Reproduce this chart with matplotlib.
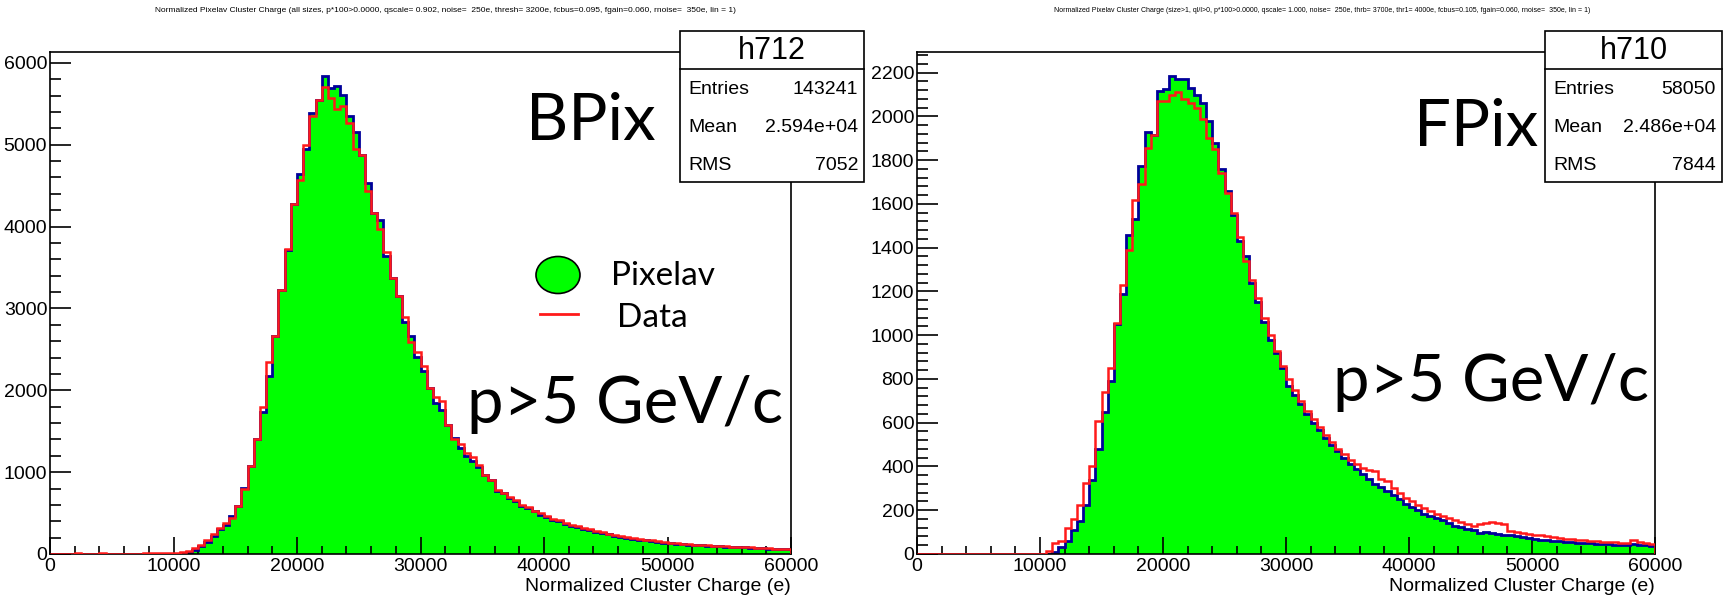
import numpy as np
import matplotlib
matplotlib.use('Agg')
import matplotlib.pyplot as plt
from matplotlib.patches import Rectangle, Ellipse
from matplotlib.lines import Line2D
from matplotlib.ticker import MultipleLocator

# cluster charge histograms, 120 bins of 500 e from 0 to 60000 e
edges = np.arange(0, 60001, 500)

bpix_sim = [
    0, 0, 0, 0, 0, 0, 0, 0, 0, 0,
    0, 0, 0, 0, 0, 0, 0, 0, 0, 0,
    2, 8, 25, 50, 95, 150, 220, 300, 360, 460,
    590, 810, 1080, 1400, 1730, 2170, 2660, 3220, 3710, 4270,
    4640, 4950, 5390, 5550, 5840, 5690, 5720, 5610, 5350, 5160,
    4870, 4530, 4170, 4080, 3640, 3370, 3150, 2840, 2660, 2410,
    2230, 2030, 1850, 1760, 1570, 1420, 1300, 1200, 1130, 1060,
    960, 905, 770, 740, 690, 650, 590, 560, 520, 480,
    450, 420, 400, 370, 345, 330, 310, 290, 270, 255,
    240, 225, 210, 200, 185, 175, 165, 160, 150, 140,
    135, 125, 120, 115, 110, 105, 100, 95, 95, 90,
    85, 80, 80, 75, 75, 70, 65, 65, 60, 60]

bpix_data = [
    0, 0, 0, 0, 10, 0, 0, 0, 10, 0,
    0, 0, 0, 0, 0, 10, 10, 10, 10, 10,
    15, 20, 40, 70, 110, 170, 240, 320, 380, 440,
    590, 800, 1070, 1410, 1800, 2340, 2660, 3230, 3720, 4270,
    4570, 4990, 5350, 5540, 5710, 5570, 5430, 5470, 5270, 4950,
    4870, 4430, 4170, 3970, 3690, 3370, 3150, 2900, 2590, 2470,
    2300, 2030, 1920, 1870, 1570, 1410, 1340, 1230, 1190, 1090,
    970, 910, 780, 750, 700, 660, 600, 570, 530, 500,
    460, 430, 410, 380, 360, 340, 320, 300, 280, 265,
    250, 235, 220, 205, 195, 180, 175, 165, 155, 150,
    140, 135, 125, 120, 115, 110, 105, 100, 95, 95,
    90, 85, 80, 80, 75, 70, 70, 65, 65, 60]

fpix_sim = [
    0, 0, 0, 0, 0, 0, 0, 0, 0, 0,
    0, 0, 0, 0, 0, 0, 0, 0, 0, 0,
    0, 0, 10, 30, 60, 110, 150, 225, 340, 480,
    650, 790, 1050, 1190, 1460, 1530, 1775, 1930, 1915, 2115,
    2125, 2185, 2170, 2170, 2130, 2100, 2060, 1980, 1880, 1760,
    1660, 1550, 1430, 1360, 1240, 1150, 1060, 980, 920, 850,
    770, 725, 685, 640, 600, 565, 530, 500, 470, 440,
    410, 390, 365, 345, 320, 305, 290, 270, 250, 230,
    215, 200, 185, 175, 165, 155, 140, 130, 122, 116,
    110, 98, 102, 96, 92, 88, 85, 80, 76, 74,
    70, 66, 64, 60, 58, 55, 53, 52, 50, 48,
    47, 46, 44, 43, 42, 42, 46, 42, 40, 38]

fpix_data = [
    0, 0, 0, 0, 0, 0, 0, 0, 0, 0,
    0, 0, 0, 0, 0, 0, 0, 0, 0, 0,
    0, 15, 50, 60, 120, 160, 225, 325, 400, 610,
    740, 850, 1055, 1230, 1390, 1620, 1690, 1855, 1915, 2070,
    2070, 2100, 2110, 2080, 2060, 2040, 1990, 1900, 1850, 1740,
    1650, 1560, 1450, 1340, 1250, 1170, 1080, 1000, 930, 860,
    800, 750, 700, 655, 615, 580, 545, 510, 480, 455,
    430, 410, 395, 385, 380, 345, 335, 300, 280, 255,
    240, 225, 210, 195, 185, 175, 165, 155, 145, 138,
    130, 135, 140, 145, 140, 138, 105, 100, 95, 92,
    88, 85, 80, 76, 74, 70, 68, 65, 62, 60,
    58, 56, 55, 54, 52, 52, 65, 55, 50, 45]

titles = [
    'Normalized Pixelav Cluster Charge (all sizes, p*100>0.0000, qscale= 0.902, noise=  250e, '
    'thresh= 3200e, fcbus=0.095, fgain=0.060, rnoise=  350e, lin = 1)',
    'Normalized Pixelav Cluster Charge (size>1, ql/l>0, p*100>0.0000, qscale= 1.000, noise=  250e, '
    'thrb= 3700e, thr1= 4000e, fcbus=0.105, fgain=0.060, rnoise=  350e, lin = 1)']
hist_names = ['h712', 'h710']
entries = ['143241', '58050']
means = ['2.594e+04', '2.486e+04']
rms = ['7052', '7844']
det_labels = ['BPix', 'FPix']

W, H = 1727, 600
plt.rcParams['font.family'] = ['Liberation Sans', 'DejaVu Sans']
fig = plt.figure(figsize=(W / 100, H / 100), dpi=100)

GREEN = '#00ff00'
BLUE = '#000099'
RED = '#ff1a1a'


def fx(x):
    return x / W


def fy(y):
    return 1 - y / H


def draw_panel(ax, sim, data, ymajor, yminor):
    ax.stairs(sim, edges, fill=True, color=GREEN, zorder=1)
    ax.stairs(sim, edges, color=BLUE, lw=2.0, zorder=2)
    ax.stairs(data, edges, color=RED, lw=1.8, zorder=3)
    ax.set_xlim(0, 60000)
    ax.set_ylim(0, max(sim) * 1.05)
    ax.xaxis.set_major_locator(MultipleLocator(10000))
    ax.xaxis.set_minor_locator(MultipleLocator(2000))
    ax.yaxis.set_major_locator(MultipleLocator(ymajor))
    ax.yaxis.set_minor_locator(MultipleLocator(yminor))
    ax.tick_params(which='both', direction='in', top=False, right=False,
                   labelsize=14, width=1.2)
    ax.tick_params(axis='y', which='major', length=15, pad=2)
    ax.tick_params(axis='y', which='minor', length=8)
    ax.tick_params(axis='x', which='major', length=12, pad=3)
    ax.tick_params(axis='x', which='minor', length=6)
    for s in ax.spines.values():
        s.set_linewidth(1.2)
    ax.set_xlabel('Normalized Cluster Charge (e)', loc='right', fontsize=14, labelpad=2)


ax1 = fig.add_axes([fx(50), fy(554), 741 / W, 502 / H])
ax2 = fig.add_axes([fx(917), fy(554), 738 / W, 502 / H])
draw_panel(ax1, bpix_sim, bpix_data, 1000, 200)
draw_panel(ax2, fpix_sim, fpix_data, 200, 40)

# tiny ROOT titles
fig.text(fx(445), fy(10), titles[0], fontsize=6.0, ha='center', va='center')
fig.text(fx(1322), fy(10), titles[1], fontsize=5.0, ha='center', va='center')

# stats boxes
for i, (x0, x1) in enumerate([(680, 864), (1545, 1722)]):
    fig.add_artist(Rectangle((fx(x0), fy(182)), (x1 - x0) / W, (182 - 31) / H,
                             transform=fig.transFigure, facecolor='white',
                             edgecolor='black', lw=1.2, zorder=5))
    fig.add_artist(Line2D([fx(x0), fx(x1)], [fy(69), fy(69)], color='black', lw=1.2,
                          transform=fig.transFigure, zorder=6))
    fig.text(fx((x0 + x1) / 2), fy(51), hist_names[i], fontsize=22, ha='center',
             va='center', zorder=7)
    rows = [('Entries', entries[i]), ('Mean', means[i]), ('RMS', rms[i])]
    for j, (k, v) in enumerate(rows):
        yy = fy(89 + 38 * j)
        fig.text(fx(x0 + 8), yy, k, fontsize=14, ha='left', va='center', zorder=7)
        fig.text(fx(x1 - 6), yy, v, fontsize=14, ha='right', va='center', zorder=7)

# slide annotations
big = dict(family=['Lato', 'DejaVu Sans'], fontsize=47, va='center')
fig.text(fx(656), fy(122), det_labels[0], ha='right', **big)
fig.text(fx(1538), fy(128), det_labels[1], ha='right', **big)
fig.text(fx(625), fy(405), 'p>5 GeV/c', ha='center', **big)
fig.text(fx(1491), fy(382), 'p>5 GeV/c', ha='center', **big)

fig.add_artist(Ellipse((fx(558), fy(275)), 44 / W, 37 / H, transform=fig.transFigure,
                       facecolor=GREEN, edgecolor='black', lw=1.2))
fig.add_artist(Line2D([fx(540), fx(578)], [fy(314), fy(314)], color=RED, lw=2,
                      transform=fig.transFigure))
leg = dict(family=['Lato', 'DejaVu Sans'], fontsize=24, ha='left', va='center')
fig.text(fx(611), fy(276), 'Pixelav', **leg)
fig.text(fx(617), fy(318), 'Data', **leg)

fig.savefig('out.png', dpi=100)
